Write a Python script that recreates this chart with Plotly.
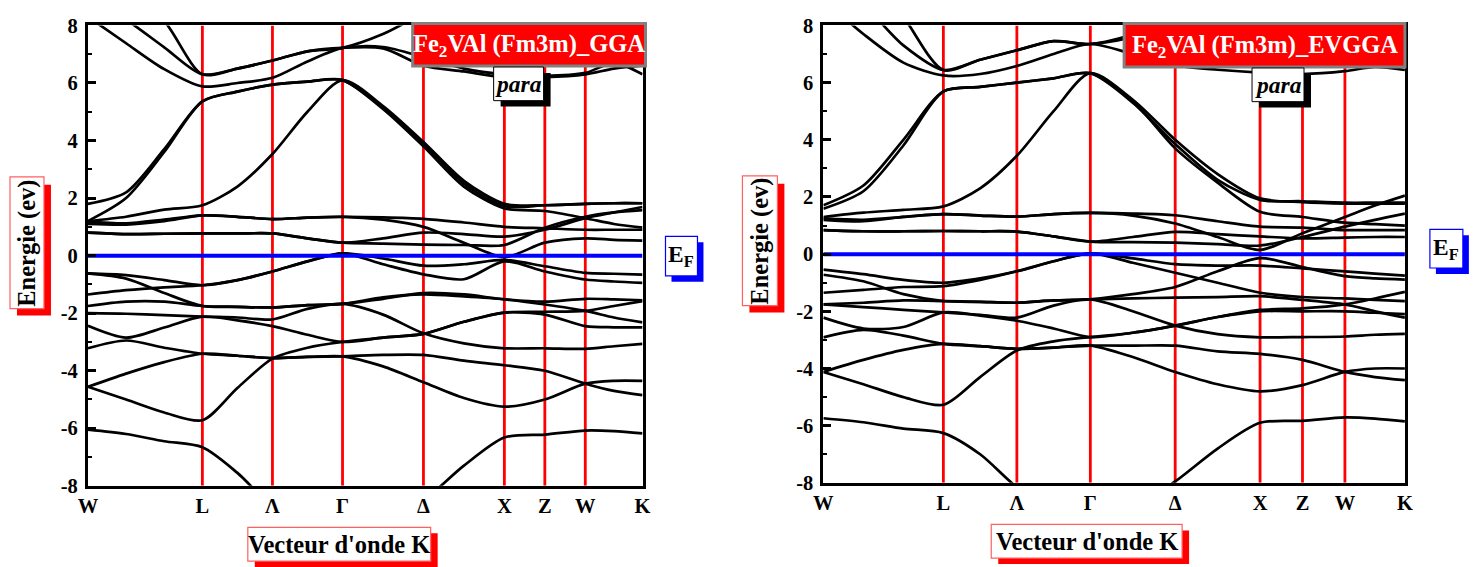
import plotly.graph_objects as go

# ---------------- k-path ----------------
k_labels = ["W", "L", "Λ", "Γ", "Δ", "X", "Z", "W", "K"]
k_sym = [0.0, 0.7071, 1.1401, 1.5731, 2.0731, 2.5731, 2.8231, 3.0731, 3.4267]
# k-grid: W a b L c Λ d Γ e Δ f X Z W g K
k_grid = [0.0, 0.2357, 0.4714, 0.7071, 0.9236, 1.1401, 1.3566, 1.5731,
          1.8231, 2.0731, 2.3231, 2.5731, 2.8231, 3.0731, 3.25, 3.4267]
e_fermi = 0.0
y_ticks = [-8, -6, -4, -2, 0, 2, 4, 6, 8]
y_tick_text = ["-8", "-6", "-4", "-2", "0", "2", "4", "6", "8"]
y_minor = [-7, -5, -3, -1, 1, 3, 5, 7]

# ---------------- GGA bands (eV) ----------------
gga_b1 = [-6.05, -6.2, -6.45, -6.66, -7.55, -8.7, -9.2, -9.4, -9.2, -8.5, -7.3, -6.32, -6.22, -6.08, -6.1, -6.18]
gga_b2 = [-4.56, -5.0, -5.45, -5.72, -4.6, -3.58, -3.2, -3.0, -2.85, -2.72, -2.3, -1.98, -1.95, -1.92, -1.75, -1.58]
gga_b3 = [-4.56, -4.1, -3.7, -3.41, -3.48, -3.56, -3.52, -3.5, -3.85, -4.4, -4.95, -5.25, -5.0, -4.45, -4.35, -4.35]
gga_b4 = [-3.22, -2.95, -3.2, -3.41, -3.48, -3.56, -3.52, -3.5, -3.45, -3.45, -3.65, -3.81, -4.0, -4.45, -4.7, -4.85]
gga_b5 = [-2.44, -2.85, -2.5, -2.12, -2.25, -2.45, -2.75, -3.0, -2.85, -2.72, -2.3, -1.98, -2.05, -2.45, -2.49, -2.49]
gga_b6 = [-2.0, -2.02, -2.07, -2.12, -2.15, -2.22, -1.85, -1.68, -2.05, -2.7, -3.05, -3.22, -3.22, -3.24, -3.15, -3.07]
gga_b7 = [-1.75, -1.6, -1.6, -1.75, -1.78, -1.8, -1.72, -1.68, -1.45, -1.35, -1.42, -1.52, -1.7, -1.92, -2.15, -2.32]
gga_b8 = [-0.62, -0.8, -1.3, -1.75, -1.78, -1.8, -1.72, -1.68, -1.5, -1.3, -1.35, -1.52, -1.6, -1.5, -1.52, -1.55]
gga_b9 = [-1.35, -1.2, -1.1, -1.03, -0.85, -0.55, -0.2, 0.08, -0.3, -0.65, -0.82, -0.2, -0.55, -0.83, -0.9, -0.95]
gga_b10 = [-0.62, -0.68, -0.85, -1.03, -0.85, -0.55, -0.2, 0.08, -0.1, -0.35, -0.3, -0.15, -0.37, -0.6, -0.63, -0.66]
gga_c1 = [0.8, 0.75, 0.76, 0.77, 0.77, 0.77, 0.6, 0.45, 0.42, 0.38, 0.37, 0.37, 0.97, 1.35, 1.5, 1.58]
gga_c2 = [1.1, 1.08, 1.2, 1.4, 1.35, 1.27, 1.32, 1.35, 1.33, 1.28, 1.15, 1.0, 0.95, 0.9, 0.9, 0.9]
gga_c3 = [1.2, 1.35, 1.6, 1.75, 2.4, 3.53, 5.0, 6.1, 5.2, 3.95, 2.6, 1.8, 1.75, 1.8, 1.82, 1.82]
gga_c4 = [1.2, 2.0, 3.6, 5.36, 5.7, 5.94, 6.05, 6.1, 5.1, 3.8, 2.4, 1.64, 1.55, 1.3, 1.1, 0.97]
gga_c5 = [1.8, 2.2, 3.7, 5.36, 5.7, 5.94, 6.05, 6.1, 5.15, 3.9, 2.5, 1.72, 1.75, 1.8, 1.82, 1.82]
gga_c6 = [1.18, 1.12, 1.25, 1.4, 1.35, 1.27, 1.32, 1.35, 1.25, 1.0, 0.45, -0.05, 0.45, 0.6, 0.55, 0.52]
gga_c7 = [0.8, 0.75, 0.76, 0.77, 0.77, 0.77, 0.6, 0.45, 0.6, 0.8, 0.75, 0.66, 0.9, 1.3, 1.5, 1.69]
gga_u1 = [8.3, 7.38, 6.48, 5.88, 6.0, 6.18, 6.75, 7.22, 7.25, 6.9, 6.5, 6.3, 6.25, 6.35, 6.7, 6.3]
gga_u2 = [9.0, 8.2, 7.24, 6.3, 6.5, 6.78, 7.1, 7.22, 7.7, 8.4, 8.8, 9.0, 9.0, 9.0, 9.0, 9.0]
gga_u3 = [10.5, 9.2, 8.15, 6.3, 6.5, 6.78, 7.1, 7.22, 7.2, 6.6, 6.4, 6.2, 6.2, 6.3, 6.5, 6.6]

# ---------------- EVGGA bands (eV) ----------------
ev_b1 = [-5.74, -5.88, -6.1, -6.26, -7.0, -8.15, -8.9, -9.1, -8.9, -7.95, -6.8, -5.9, -5.83, -5.71, -5.75, -5.85]
ev_b2 = [-4.12, -4.55, -5.0, -5.27, -4.3, -3.37, -3.05, -2.9, -2.75, -2.5, -2.2, -1.95, -1.9, -1.76, -1.55, -1.32]
ev_b3 = [-4.12, -3.7, -3.35, -3.14, -3.22, -3.31, -3.27, -3.2, -3.6, -4.12, -4.55, -4.8, -4.58, -4.12, -4.0, -4.0]
ev_b4 = [-2.91, -2.65, -2.85, -3.14, -3.22, -3.31, -3.27, -3.2, -3.2, -3.2, -3.4, -3.49, -3.7, -4.12, -4.3, -4.41]
ev_b5 = [-2.22, -2.6, -2.55, -2.04, -2.15, -2.33, -2.6, -2.9, -2.75, -2.5, -2.2, -2.0, -2.0, -2.0, -2.05, -2.1]
ev_b6 = [-1.76, -1.85, -1.95, -2.04, -2.12, -2.22, -1.8, -1.58, -2.0, -2.5, -2.8, -2.91, -2.9, -2.88, -2.82, -2.79]
ev_b7 = [-1.76, -1.7, -1.62, -1.64, -1.67, -1.7, -1.62, -1.58, -1.55, -1.52, -1.5, -1.47, -1.6, -1.76, -2.0, -2.22]
ev_b8 = [-0.72, -0.95, -1.4, -1.64, -1.67, -1.7, -1.62, -1.58, -1.4, -1.15, -0.6, -0.14, -0.45, -0.77, -0.85, -0.89]
ev_b9 = [-1.35, -1.25, -1.15, -1.12, -0.9, -0.6, -0.25, 0.03, -0.15, -0.35, -0.4, -0.4, -0.5, -0.6, -0.68, -0.75]
ev_b10 = [-0.54, -0.7, -0.9, -1.0, -0.85, -0.6, -0.25, 0.03, -0.3, -0.65, -1.0, -1.35, -1.5, -1.55, -1.6, -1.64]
ev_c1 = [0.84, 0.8, 0.8, 0.81, 0.8, 0.79, 0.62, 0.44, 0.42, 0.4, 0.35, 0.3, 0.6, 0.96, 1.2, 1.42]
ev_c2 = [1.2, 1.15, 1.3, 1.4, 1.35, 1.31, 1.4, 1.44, 1.42, 1.36, 1.15, 0.96, 0.93, 0.84, 0.84, 0.84]
ev_c3 = [1.3, 1.45, 1.55, 1.67, 2.3, 3.44, 5.0, 6.33, 5.4, 4.0, 2.8, 1.95, 1.82, 1.77, 1.77, 1.77]
ev_c4 = [1.59, 2.2, 3.8, 5.69, 5.85, 6.0, 6.15, 6.33, 5.35, 3.7, 2.5, 1.48, 1.3, 1.1, 1.05, 1.0]
ev_c5 = [1.71, 2.4, 4.0, 5.69, 5.85, 6.0, 6.15, 6.33, 5.3, 3.85, 2.6, 1.9, 1.85, 1.8, 1.8, 1.8]
ev_c6 = [1.25, 1.2, 1.3, 1.4, 1.35, 1.31, 1.4, 1.44, 1.35, 1.07, 0.6, 0.15, 0.73, 1.3, 1.7, 2.05]
ev_c7 = [0.84, 0.8, 0.8, 0.81, 0.8, 0.79, 0.62, 0.44, 0.6, 0.78, 0.7, 0.62, 0.55, 0.58, 0.6, 0.6]
ev_u1 = [8.9, 7.7, 6.7, 6.25, 6.3, 6.58, 7.0, 7.35, 7.0, 6.6, 6.45, 6.35, 6.3, 6.4, 6.55, 6.44]
ev_u2 = [9.5, 8.7, 7.3, 6.44, 6.8, 7.13, 7.45, 7.35, 7.6, 8.2, 8.6, 9.0, 9.0, 9.0, 9.0, 9.0]
ev_u3 = [10.5, 10.0, 8.3, 6.44, 6.8, 7.13, 7.45, 7.35, 7.7, 8.5, 9.0, 9.2, 9.2, 9.2, 9.2, 9.2]

gga_bands = [gga_b1, gga_b2, gga_b3, gga_b4, gga_b5, gga_b6, gga_b7, gga_b8, gga_b9, gga_b10,
             gga_c1, gga_c2, gga_c3, gga_c4, gga_c5, gga_c6, gga_c7, gga_u1, gga_u2, gga_u3]
ev_bands = [ev_b1, ev_b2, ev_b3, ev_b4, ev_b5, ev_b6, ev_b7, ev_b8, ev_b9, ev_b10,
            ev_c1, ev_c2, ev_c3, ev_c4, ev_c5, ev_c6, ev_c7, ev_u1, ev_u2, ev_u3]

W, H = 1480, 567
FONT = "Liberation Serif"
# compensation of the offset/scale measured on the photographed page
AX, SX = 9.0, 0.9886
Y0_REF, Y0_FIG, SYI = 20.0, 15.0, 1.0301


def px(x):
    return ((x - AX) / SX) / W


def py(y):
    return 1 - (Y0_FIG + (y - Y0_REF) * SYI) / H


fig = go.Figure()


def add_panel(bands, xa, ya):
    ymin, ymax = y_ticks[0], y_ticks[-1]
    for k in k_sym[1:-1]:
        fig.add_trace(go.Scatter(x=[k, k], y=[ymin, ymax], mode="lines",
                                 line=dict(color="#ff0000", width=2.8),
                                 xaxis=xa, yaxis=ya, hoverinfo="skip", showlegend=False))
    for b in bands:
        fig.add_trace(go.Scatter(x=k_grid, y=b, mode="lines",
                                 line=dict(color="black", width=2.7, shape="spline", smoothing=0.8),
                                 xaxis=xa, yaxis=ya, hoverinfo="skip", showlegend=False))
    fig.add_trace(go.Scatter(x=[k_sym[0], k_sym[-1]], y=[e_fermi, e_fermi], mode="lines",
                             line=dict(color="#0000ff", width=4),
                             xaxis=xa, yaxis=ya, hoverinfo="skip", showlegend=False))


add_panel(gga_bands, "x", "y")
add_panel(ev_bands, "x2", "y2")

xcommon = dict(range=[k_sym[0], k_sym[-1]], tickmode="array", tickvals=k_sym, ticktext=k_labels,
               ticks="", showline=True, linecolor="black", linewidth=3, mirror=True,
               showgrid=False, zeroline=False,
               tickfont=dict(family=FONT, size=20.5, color="black", weight="bold"))
ycommon = dict(range=[y_ticks[0], y_ticks[-1]], tickmode="array", tickvals=y_ticks, ticktext=y_tick_text,
               ticks="inside", ticklen=8,
               tickwidth=2.5, tickcolor="black", showline=True, linecolor="black", linewidth=3,
               mirror=True, showgrid=False, zeroline=False, ticklabelstandoff=3,
               minor=dict(tickmode="array", tickvals=y_minor, ticks="inside", ticklen=4, tickwidth=2,
                          tickcolor="black", showgrid=False),
               tickfont=dict(family=FONT, size=20.5, color="black", weight="bold"))

fig.update_layout(
    width=W, height=H, autosize=False,
    margin=dict(l=0, r=0, t=0, b=0),
    paper_bgcolor="white", plot_bgcolor="white",
    xaxis=dict(domain=[px(87), px(642)], anchor="y", **xcommon),
    yaxis=dict(domain=[py(485), py(20)], anchor="x", **ycommon),
    xaxis2=dict(domain=[px(823), px(1405)], anchor="y2", **xcommon),
    yaxis2=dict(domain=[py(482), py(20)], anchor="x2", **ycommon),
)

shapes = []
annotations = []


def rect(x0, y0, x1, y1, fill, line, lw):
    shapes.append(dict(type="rect", xref="paper", yref="paper", layer="above",
                       x0=px(x0), x1=px(x1), y0=py(y1), y1=py(y0),
                       fillcolor=fill, line=dict(color=line, width=lw)))


def label(text, xc, yc, size, color="black", angle=0):
    annotations.append(dict(text=text, xref="paper", yref="paper", x=px(xc), y=py(yc),
                            xanchor="center", yanchor="middle", showarrow=False, textangle=angle,
                            font=dict(family=FONT, size=size, color=color, weight="bold")))


def panel_deco(title, tb, pb, eb, yb, xb):
    # title box
    rect(*tb, "#ff0000", "#808080", 3)
    label(title, (tb[0] + tb[2]) / 2, (tb[1] + tb[3]) / 2 + 1, 24.5, "white")
    # para
    rect(pb[0] + 7, pb[1] + 6, pb[2] + 7, pb[3] + 6, "black", "black", 0)
    rect(*pb, "white", "black", 1)
    label("<i>para</i>", (pb[0] + pb[2]) / 2, (pb[1] + pb[3]) / 2, 23.5)
    # E_F
    rect(eb[0] + 6, eb[1] + 6, eb[2] + 6, eb[3] + 6, "#0000ff", "#0000ff", 0)
    rect(*eb, "white", "#0000ff", 1.2)
    label("E<sub>F</sub>", (eb[0] + eb[2]) / 2, (eb[1] + eb[3]) / 2, 23.5)
    # y title
    rect(yb[0] + 7, yb[1] + 8, yb[2] + 7, yb[3] + 7, "#ff0000", "#ff0000", 0)
    rect(*yb, "white", "#ff6060", 1.2)
    label("Energie (ev)", (yb[0] + yb[2]) / 2, (yb[1] + yb[3]) / 2, 24.5, angle=-90)
    # x title
    rect(xb[0] + 7, xb[1] + 6, xb[2] + 7, xb[3] + 6, "#ff0000", "#ff0000", 0)
    rect(*xb, "white", "#ff6060", 1.2)
    label("Vecteur d'onde K", (xb[0] + xb[2]) / 2, (xb[1] + xb[3]) / 2, 24.5)


panel_deco("Fe<sub>2</sub>VAl (Fm3m)_GGA", (412, 18, 645, 61), (493, 62, 543, 96),
           (665, 233, 697, 273), (9, 173, 43, 306), (247, 527, 430, 561))
panel_deco("Fe<sub>2</sub>VAl (Fm3m)_EVGGA", (1124, 18, 1405, 62), (1252, 63, 1304, 97),
           (1430, 226, 1463, 265), (742, 172, 777, 303), (991, 524, 1182, 558))

fig.update_layout(shapes=shapes, annotations=annotations)
fig.write_html("out.html")
